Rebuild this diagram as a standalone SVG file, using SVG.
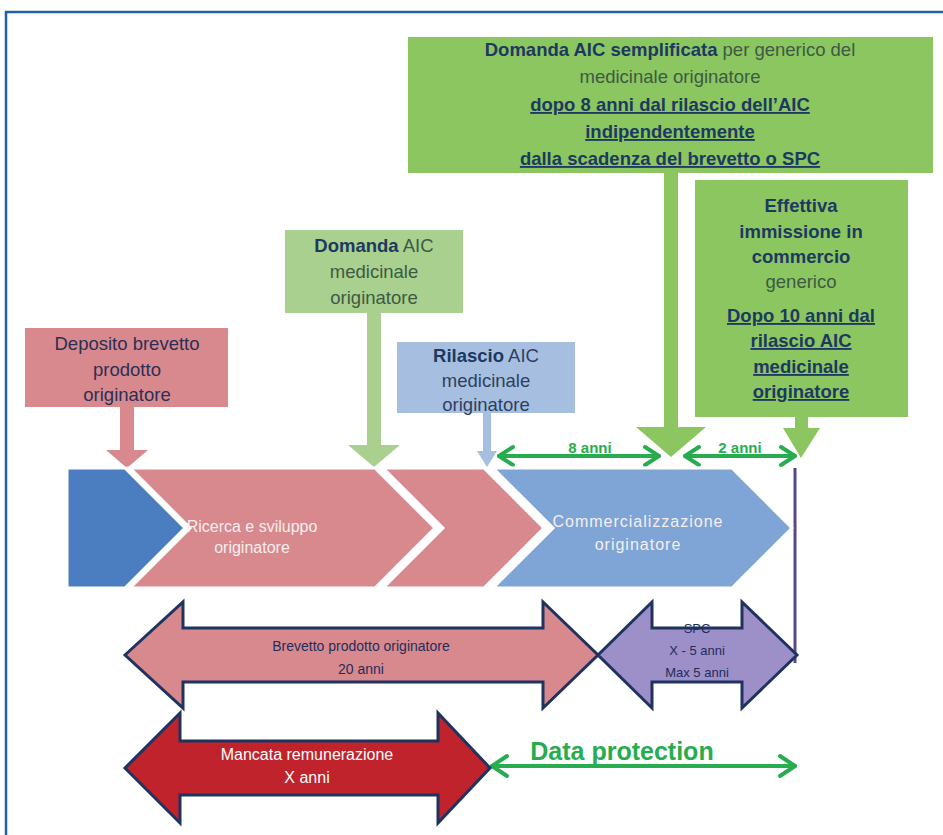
<svg xmlns="http://www.w3.org/2000/svg" width="943" height="835" viewBox="0 0 943 835">
<defs>
<style>
text{font-family:"Liberation Sans",Arial,sans-serif;text-anchor:middle}
.bx{font-size:18.5px}
.b{font-weight:bold;fill:#1d3960}
.u{text-decoration:underline}
.gtx{fill:#3c5a44}
.ptx{fill:#2b2f55}
.btx{fill:#2e3f5e}
.grn{stroke:#27ad4f;stroke-width:4;fill:none;stroke-linecap:round;stroke-linejoin:round}
.dbl{stroke:#1f3360;stroke-width:3;stroke-linejoin:miter}
.chev{stroke:#fff;stroke-width:3}
.ctx{font-size:16px;fill:#f6eeee}
.ntx{font-size:14px;fill:#1f2d5a}
</style>
</defs>
<rect x="6" y="12" width="950" height="840" fill="#fff" stroke="#1f5fa3" stroke-width="2.5"/>

<g id="connectors">
  <path d="M120,406 H134 V450 H148 L127,468 L106,450 H120 Z" fill="#d8898e"/>
  <path d="M367,312 H381 V445 H400 L374,467 L348,445 H367 Z" fill="#a9d08e"/>
  <path d="M483,412 H491 V451 H497 L487,467 L477,451 H483 Z" fill="#a6bfe0"/>
  <path d="M664,172 H678 V427 H706 L671,457 L636,427 H664 Z" fill="#8bc660"/>
  <path d="M795,416 H808 V428 H820 L801,458 L783,428 H795 Z" fill="#8bc660"/>
  <g class="grn">
    <line x1="499" y1="456" x2="659" y2="456"/>
    <polyline points="513,447 499,456 513,465"/>
    <polyline points="645,447 659,456 645,465"/>
    <line x1="685" y1="456" x2="795" y2="456"/>
    <polyline points="699,447 685,456 699,465"/>
    <polyline points="781,447 795,456 781,465"/>
    <line x1="492" y1="766" x2="795" y2="766"/>
    <polyline points="507,756 492,766 507,776"/>
    <polyline points="780,756 795,766 780,776"/>
  </g>
  <line x1="795" y1="468" x2="795" y2="663" stroke="#55478a" stroke-width="3"/>
</g>

<g id="phase-blue">
  <polygon class="chev" points="67,468 125,468 185,528 125,588 67,588" fill="#4a7ec0"/>
</g>
<g id="phase-ricerca">
  <polygon class="chev" points="130,468 375,468 435,528 375,588 130,588 190,528" fill="#d8898e"/>
  <text class="ctx" x="252" y="532">Ricerca e sviluppo</text>
  <text class="ctx" x="252" y="553">originatore</text>
</g>
<g id="phase-ricerca2">
  <polygon class="chev" points="383,468 484,468 544,528 484,588 383,588 443,528" fill="#d8898e"/>
</g>
<g id="phase-commercializzazione">
  <polygon class="chev" points="493,468 732,468 792,528 732,588 493,588 553,528" fill="#7ea5d6"/>
  <text class="ctx" x="638" y="527" letter-spacing="1">Commercializzazione</text>
  <text class="ctx" x="638" y="550" letter-spacing="1">originatore</text>
</g>

<g id="box-domanda-semplificata">
  <rect x="408" y="37" width="525" height="136" fill="#8bc660"/>
  <text class="bx" x="670" y="56"><tspan class="b">Domanda AIC semplificata</tspan><tspan class="gtx"> per generico  del</tspan></text>
  <text class="bx gtx" x="670" y="83">medicinale originatore</text>
  <text class="bx b u" x="670" y="111">dopo 8 anni dal rilascio dell’AIC</text>
  <text class="bx b u" x="670" y="138">indipendentemente</text>
  <text class="bx b u" x="670" y="165">dalla scadenza del brevetto o SPC</text>
</g>

<g id="box-effettiva">
  <rect x="695" y="180" width="213" height="237" fill="#8bc660"/>
  <text class="bx b" x="801" y="212">Effettiva</text>
  <text class="bx b" x="801" y="238">immissione in</text>
  <text class="bx b" x="801" y="263">commercio</text>
  <text class="bx gtx" x="801" y="288">generico</text>
  <text class="bx b u" x="801" y="322">Dopo 10 anni dal</text>
  <text class="bx b u" x="801" y="347">rilascio AIC</text>
  <text class="bx b u" x="801" y="373">medicinale</text>
  <text class="bx b u" x="801" y="398">originatore</text>
</g>

<g id="box-deposito">
  <rect x="25" y="328" width="203" height="79" fill="#d8898e"/>
  <text class="bx ptx" x="127" y="350">Deposito brevetto</text>
  <text class="bx ptx" x="127" y="376">prodotto</text>
  <text class="bx ptx" x="127" y="401">originatore</text>
</g>

<g id="box-domanda-aic">
  <rect x="285" y="230" width="178" height="83" fill="#a9d08e"/>
  <text class="bx" x="374" y="252"><tspan class="b">Domanda</tspan><tspan class="gtx"> AIC</tspan></text>
  <text class="bx gtx" x="374" y="278">medicinale</text>
  <text class="bx gtx" x="374" y="304">originatore</text>
</g>

<g id="box-rilascio">
  <rect x="397" y="342" width="178" height="71" fill="#a6bfe0"/>
  <text class="bx" x="486" y="362"><tspan class="b">Rilascio</tspan><tspan class="btx"> AIC</tspan></text>
  <text class="bx btx" x="486" y="387">medicinale</text>
  <text class="bx btx" x="486" y="411">originatore</text>
</g>

<g id="label-8anni">
  <text x="590" y="453" font-size="15" font-weight="bold" fill="#27ad4f">8 anni</text>
</g>
<g id="label-2anni">
  <text x="740" y="453" font-size="15" font-weight="bold" fill="#27ad4f">2 anni</text>
</g>

<g id="brevetto">
  <path class="dbl" d="M125,655 L183,602 L183,628 L543,628 L543,602 L598,655 L543,708 L543,682 L183,682 L183,708 Z" fill="#d8898e"/>
  <text class="ntx" x="361" y="651">Brevetto prodotto originatore</text>
  <text class="ntx" x="361" y="674">20 anni</text>
</g>

<g id="spc">
  <path class="dbl" d="M598,655 L652,602 L652,628 L742,628 L742,602 L797,655 L742,708 L742,682 L652,682 L652,708 Z" fill="#9d8fc8"/>
  <text x="697" y="633" font-size="13" fill="#1f2d5a">SPC</text>
  <text x="697" y="655" font-size="13" fill="#1f2d5a">X - 5 anni</text>
  <text x="697" y="677" font-size="13" fill="#1f2d5a">Max 5 anni</text>
</g>

<g id="mancata">
  <path class="dbl" d="M125,768 L180,713 L180,741 L438,741 L438,713 L490,768 L438,823 L438,795 L180,795 L180,823 Z" fill="#c0232b"/>
  <text x="307" y="760" font-size="16" fill="#fff">Mancata remunerazione</text>
  <text x="307" y="783" font-size="16" fill="#fff">X anni</text>
</g>

<g id="data-protection">
  <text x="622" y="760" font-size="25" font-weight="bold" fill="#27ad4f">Data protection</text>
</g>
</svg>
